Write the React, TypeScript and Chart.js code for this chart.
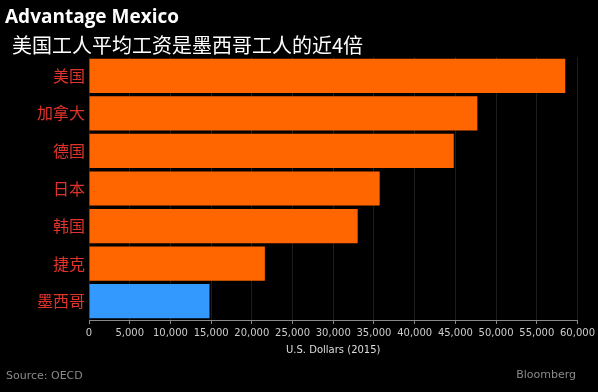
import React, { useEffect, useRef } from "react";
import { Chart, registerables } from "chart.js";

Chart.register(...registerables);

const categories = ["美国", "加拿大", "德国", "日本", "韩国", "捷克", "墨西哥"];
const wages = [58500, 47700, 44800, 35700, 33000, 21600, 14800];
const barColors = ["#ff6600", "#ff6600", "#ff6600", "#ff6600", "#ff6600", "#ff6600", "#3399ff"];
const xMax = 60000;
const xStep = 5000;

const title = "Advantage Mexico";
const subtitle = "美国工人平均工资是墨西哥工人的近4倍";
const axisTitle = "U.S. Dollars (2015)";
const source = "Source: OECD";

export default function App() {
  const ref = useRef<HTMLCanvasElement | null>(null);

  useEffect(() => {
    document.body.style.margin = "0";
    document.body.style.background = "#000";
    const canvas = ref.current;
    if (!canvas) return;
    const chart = new Chart(canvas, {
      type: "bar",
      data: {
        labels: categories,
        datasets: [
          {
            data: wages,
            backgroundColor: barColors,
            borderWidth: 0,
            barPercentage: 0.91,
            categoryPercentage: 1,
          },
        ],
      },
      options: {
        indexAxis: "y",
        animation: false,
        responsive: false,
        maintainAspectRatio: false,
        layout: { padding: { top: 57, right: 20, bottom: 36, left: 0 } },
        plugins: {
          legend: { display: false },
          tooltip: { enabled: false },
        },
        scales: {
          y: {
            grid: { display: false, drawTicks: false },
            border: { display: false },
            ticks: {
              color: "#e0332c",
              font: { family: "'Noto Sans CJK SC'", size: 16 },
              padding: 4,
            },
            afterFit: (s: any) => {
              s.width = 89;
            },
          },
          x: {
            min: 0,
            max: xMax,
            grid: {
              color: "#1c1c1c",
              lineWidth: 1,
              drawTicks: true,
              tickLength: 4,
              tickColor: "#888",
            },
            border: { display: true, color: "#888" },
            ticks: {
              stepSize: xStep,
              color: "#cccccc",
              font: { family: "'DejaVu Sans'", size: 10 },
              padding: 3,
              maxRotation: 0,
              autoSkip: false,
              callback: (v: any) => Number(v).toLocaleString("en-US"),
            },
            title: {
              display: true,
              text: axisTitle,
              color: "#dddddd",
              font: { family: "'DejaVu Sans'", size: 10 },
              padding: { top: 4, bottom: 0 },
            },
            afterFit: (s: any) => {
              s.height = 36;
            },
          },
        },
      },
    });
    return () => chart.destroy();
  }, []);

  return (
    <div
      style={{
        position: "relative",
        width: 598,
        height: 392,
        background: "#000",
        overflow: "hidden",
      }}
    >
      <canvas ref={ref} width={598} height={392} style={{ position: "absolute", left: 0, top: 0 }} />
      <div
        style={{
          position: "absolute",
          left: 5,
          top: 4,
          color: "#fff",
          fontFamily: "'Open Sans', 'DejaVu Sans', sans-serif",
          fontWeight: 700,
          fontSize: 19,
          lineHeight: "24px",
        }}
      >
        {title}
      </div>
      <div
        style={{
          position: "absolute",
          left: 12,
          top: 32,
          color: "#fff",
          fontFamily: "'Noto Sans CJK SC', sans-serif",
          fontSize: 20,
          lineHeight: "26px",
        }}
      >
        {subtitle}
      </div>
      <div
        style={{
          position: "absolute",
          left: 6,
          top: 368,
          color: "#8a8a8a",
          fontFamily: "'DejaVu Sans', sans-serif",
          fontSize: 11,
          lineHeight: "16px",
        }}
      >
        {source}
      </div>
      <div
        style={{
          position: "absolute",
          right: 22,
          top: 367,
          color: "#8a8a8a",
          fontFamily: "'DejaVu Sans', sans-serif",
          fontSize: 11,
          lineHeight: "16px",
        }}
      >
        Bloomberg
      </div>
    </div>
  );
}
